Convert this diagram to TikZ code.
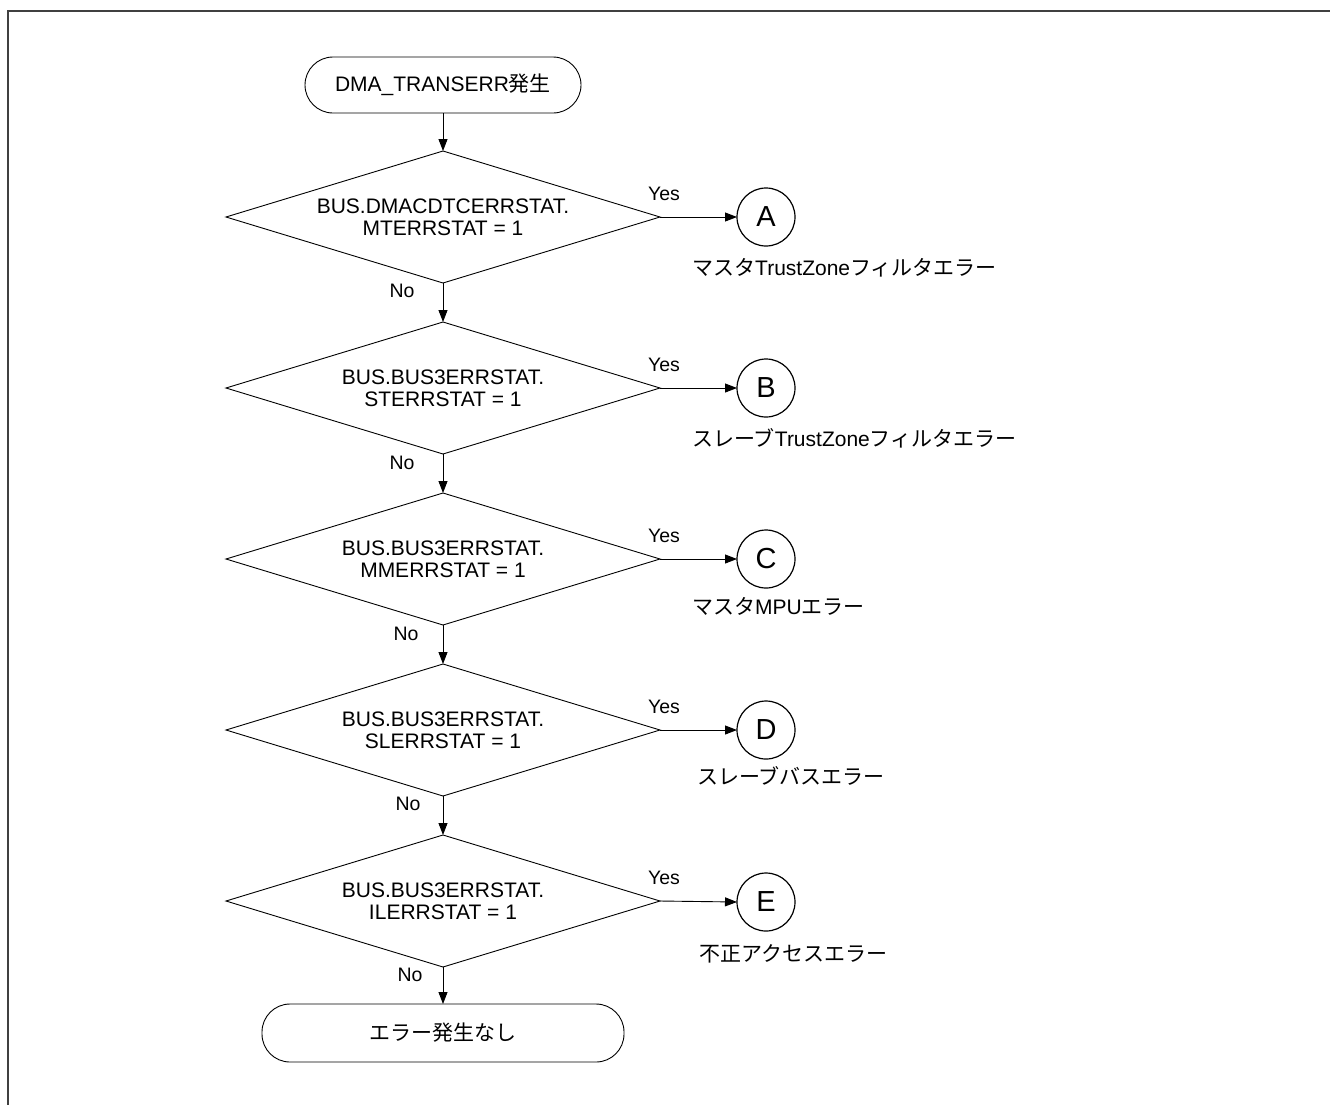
\documentclass[tikz,border=0pt]{standalone}
\usepackage{fontspec}
\setmainfont{Liberation Sans}
\newfontfamily\jp{Noto Sans CJK JP}
\usetikzlibrary{shapes.geometric,arrows.meta}
\tikzset{
  every node/.style={font=\fontsize{21}{21}\selectfont},
  term/.style={draw, line width=0.9pt, rectangle, rounded corners=28pt, minimum height=56pt, inner sep=0pt, outer sep=0pt},
  dec/.style={draw, line width=0.9pt, diamond, aspect=3.29, minimum width=434pt, minimum height=132pt, inner sep=0pt, outer sep=0pt, align=center, font=\fontsize{21}{22}\selectfont},
  conn/.style={draw, line width=1.2pt, circle, minimum size=58pt, inner sep=0pt, outer sep=0pt, font=\fontsize{29}{29}\selectfont},
  lbl/.style={font=\fontsize{19.5}{19.5}\selectfont, inner sep=0pt},
  note/.style={anchor=west, inner sep=0pt},
  flow/.style={line width=0.9pt, -{Triangle[length=12pt,width=9pt]}},
}
\begin{document}
\begin{tikzpicture}[x=1pt,y=-1pt]
\useasboundingbox (0,0) rectangle (1330,1104);
\draw[line width=2pt, color=black!75] (8,1110) -- (8,10.5) -- (1340,10.5);

\node[term, minimum width=276pt] (start) at (443,85) {DMA\_TRANSERR{\jp 発生}};

\node[dec] (d1) at (443,217) {BUS.DMACDTCERRSTAT.\\MTERRSTAT = 1};
\node[dec] (d2) at (443,388) {BUS.BUS3ERRSTAT.\\STERRSTAT = 1};
\node[dec] (d3) at (443,559) {BUS.BUS3ERRSTAT.\\MMERRSTAT = 1};
\node[dec] (d4) at (443,730) {BUS.BUS3ERRSTAT.\\SLERRSTAT = 1};
\node[dec] (d5) at (443,901) {BUS.BUS3ERRSTAT.\\ILERRSTAT = 1};

\node[term, minimum width=362pt, minimum height=58pt] (end) at (443,1033) {\jp エラー発生なし};

\node[conn] (A) at (766,217) {A};
\node[conn] (B) at (766,388) {B};
\node[conn] (C) at (766,559) {C};
\node[conn] (D) at (766,730) {D};
\node[conn] (E) at (766,902) {E};

\node[note] (la) at (692,268) {{\jp マスタ}TrustZone{\jp フィルタエラー}};
\node[note] (lb) at (692,438) {{\jp スレーブ}TrustZone{\jp フィルタエラー}};
\node[note] (lc) at (692,606) {{\jp マスタ}MPU{\jp エラー}};
\node[note] (ld) at (697,776) {\jp スレーブバスエラー};
\node[note] (le) at (699,954) {\jp 不正アクセスエラー};

\draw[flow] (start.south) -- (d1.north);
\draw[flow] (d1.south) -- (d2.north);
\draw[flow] (d2.south) -- (d3.north);
\draw[flow] (d3.south) -- (d4.north);
\draw[flow] (d4.south) -- (d5.north);
\draw[flow] (d5.south) -- (end.north);

\draw[flow] (d1.east) -- (A.west);
\draw[flow] (d2.east) -- (B.west);
\draw[flow] (d3.east) -- (C.west);
\draw[flow] (d4.east) -- (D.west);
\draw[flow] (d5.east) -- (E.west);

\node[lbl] (y1) at (664,194) {Yes};
\node[lbl] (y2) at (664,365) {Yes};
\node[lbl] (y3) at (664,536) {Yes};
\node[lbl] (y4) at (664,707) {Yes};
\node[lbl] (y5) at (664,878) {Yes};

\node[lbl] (n1) at (402,291) {No};
\node[lbl] (n2) at (402,463) {No};
\node[lbl] (n3) at (406,634) {No};
\node[lbl] (n4) at (408,804) {No};
\node[lbl] (n5) at (410,975) {No};
\end{tikzpicture}
\end{document}
